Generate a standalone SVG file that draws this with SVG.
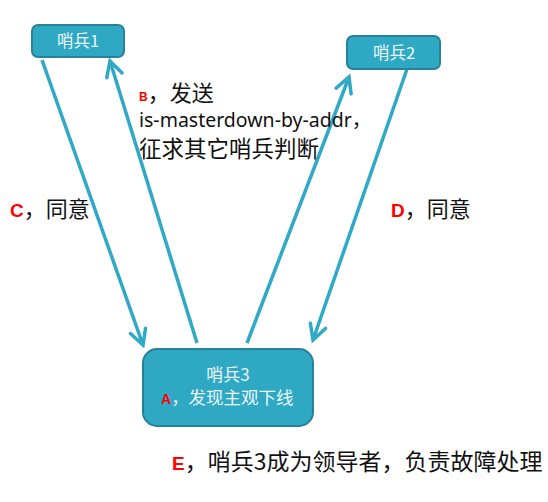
<svg xmlns="http://www.w3.org/2000/svg" width="548" height="502" viewBox="0 0 548 502">
<defs>
<marker id="arr" markerUnits="userSpaceOnUse" viewBox="-18 -12 22 24" markerWidth="22" markerHeight="24" refX="0" refY="0" orient="auto">
<path d="M-15,-8 L0,0 L-15,8" fill="none" stroke="#2FA9C6" stroke-width="3.5" stroke-linecap="round" stroke-linejoin="miter"/>
</marker>
</defs>
<style>
.node{fill:#2FA8C4;stroke:#27819A;stroke-width:2}
.ntxt{font-family:"Noto Sans CJK SC","Noto Sans",sans-serif;fill:#EAF7FA}
.conn{stroke:#2FA9C6;stroke-width:3.5;fill:none}
.lbl{font-family:"Noto Sans CJK SC","Noto Sans",sans-serif;fill:#111;font-size:22px}
.lat{font-family:"Noto Sans","Noto Sans CJK SC",sans-serif;fill:#111;font-size:19.5px}
.red{fill:#FF0000;font-weight:bold;font-family:"Liberation Sans","Noto Sans",sans-serif}
</style>
<rect width="548" height="502" fill="#FFFFFF"/>
<g id="connectors">
<line class="conn" x1="42" y1="60" x2="143" y2="345" marker-end="url(#arr)"/>
<line class="conn" x1="197" y1="343" x2="110" y2="61" marker-end="url(#arr)"/>
<line class="conn" x1="247" y1="343" x2="349" y2="77" marker-end="url(#arr)"/>
<line class="conn" x1="407" y1="69" x2="313" y2="340" marker-end="url(#arr)"/>
</g>
<g id="node1">
<rect class="node" x="32" y="25" width="92" height="32" rx="6"/>
<text class="ntxt" x="78" y="47" font-size="16.5" text-anchor="middle">哨兵1</text>
</g>
<g id="node2">
<rect class="node" x="347" y="36" width="93" height="33" rx="6"/>
<text class="ntxt" x="394" y="59" font-size="16.5" text-anchor="middle">哨兵2</text>
</g>
<g id="node3">
<rect class="node" x="143" y="349" width="170" height="77" rx="14"/>
<text class="ntxt" x="228" y="381" font-size="17" text-anchor="middle">哨兵3</text>
<text class="ntxt" x="161" y="404" font-size="17.5"><tspan class="red" font-size="14">A</tspan>，发现主观下线</text>
</g>
<g id="labels">
<text class="lbl" x="139" y="101"><tspan class="red" font-size="12">B</tspan>，发送</text>
<text class="lat" x="139" y="126.5">is-masterdown-by-addr，</text>
<text class="lbl" x="139" y="156.5" style="font-size:22.5px">征求其它哨兵判断</text>
<text class="lbl" x="10" y="217"><tspan class="red" font-size="19">C</tspan>，同意</text>
<text class="lbl" x="391" y="217"><tspan class="red" font-size="19">D</tspan>，同意</text>
<text class="lbl" x="172" y="470" style="font-size:23px"><tspan class="red" style="font-size:19px">E</tspan>，哨兵3成为领导者，负责故障处理</text>
</g>
</svg>
